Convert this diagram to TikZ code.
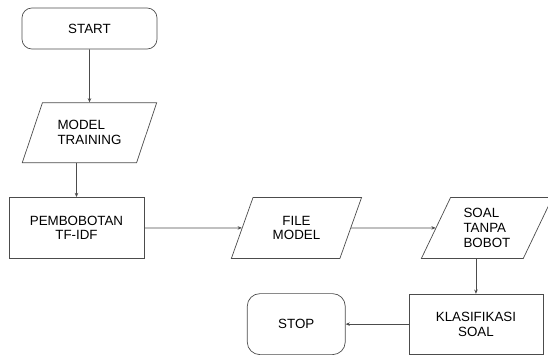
\documentclass[tikz,border=0pt]{standalone}
\usepackage{fontspec}
\setmainfont{Liberation Sans}
\usetikzlibrary{shapes.geometric, positioning, arrows.meta}

\begin{document}
\begin{tikzpicture}[
  term/.style={draw, rounded corners=7pt, align=center, font=\fontsize{9.5}{10.5}\selectfont},
  proc/.style={draw, minimum width=3.375cm, minimum height=1.525cm, align=center, font=\fontsize{9.5}{10.5}\selectfont},
  io/.style={draw, trapezium, trapezium left angle=65, trapezium right angle=115, trapezium stretches=true,
    minimum width=3.3cm, minimum height=1.525cm, align=center, font=\fontsize{9.5}{10.5}\selectfont},
  >={Stealth[length=3pt, width=2.5pt]}, line width=0.5pt, draw=black!70]
  \useasboundingbox (-2.2375,0.7125) rectangle (11.4625,-8.1375);
  \node[term, minimum width=3.375cm, minimum height=1.025cm] (start) {START};
  \node[io, minimum width=3.375cm, minimum height=1.5cm, align=left, below=1.325cm of start] (model) {MODEL\\TRAINING};
  \node[proc, below=0.85cm of model, xshift=-0.325cm] (tfidf) {PEMBOBOTAN\\TF-IDF};
  \node[io, minimum width=3.275cm, trapezium left angle=67, trapezium right angle=113, right=2.4375cm of tfidf] (file) {FILE\\MODEL};
  \node[io, align=left, right=2.1125cm of file] (soal) {SOAL\\TANPA\\BOBOT};
  \node[proc, minimum width=3.35cm, minimum height=1.5cm, below=0.875cm of soal, xshift=-0.275cm] (klas) {KLASIFIKASI\\SOAL};
  \node[term, rounded corners=9pt, minimum width=2.45cm, minimum height=1.525cm, left=1.575cm of klas] (stop) {STOP};
  \draw[->] (start) -- (model);
  \draw[->] (model.south -| tfidf.north) -- (tfidf.north);
  \draw[->] (tfidf) -- (file);
  \draw[->] (file) -- (soal);
  \draw[->] (soal.south -| klas.north) -- (klas.north);
  \draw[->] (klas) -- (stop);
\end{tikzpicture}
\end{document}
